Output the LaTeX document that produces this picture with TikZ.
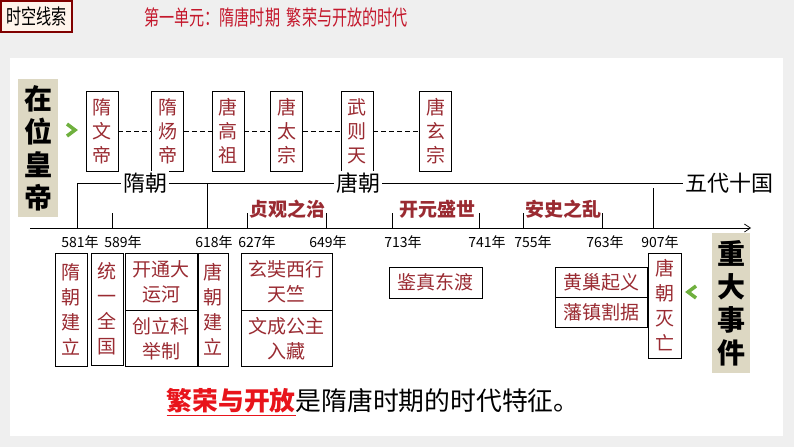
\documentclass[tikz,border=0pt]{standalone}
\usepackage{fontspec}
\setmainfont{Noto Sans CJK SC}
\usetikzlibrary{positioning, arrows.meta}

\definecolor{eventred}{HTML}{9A2B32}
\definecolor{titlered}{HTML}{C4182C}
\definecolor{boldred}{HTML}{E8141B}
\definecolor{tagtan}{HTML}{DDD8C3}
\definecolor{chevgreen}{HTML}{6FB03E}
\definecolor{pagegray}{HTML}{EFEFEF}

\newcommand{\narrowtext}[1]{\scalebox{0.72}[1]{#1}}

\tikzset{
  emperor/.style={draw, fill=white, inner sep=0pt, minimum width=32pt, minimum height=80pt,
    align=center, text=eventred, font=\fontsize{19}{24}\selectfont},
  event/.style={draw, fill=white, inner sep=0pt, align=center, text=eventred,
    font=\fontsize{19}{25}\selectfont},
  period/.style={text=eventred, font=\fontsize{19}{22}\selectfont\bfseries, inner sep=1pt},
  dynasty/.style={fill=white, inner sep=2pt, font=\fontsize{22}{24}\selectfont},
  year/.style={font=\fontsize{14}{15}\selectfont, inner sep=0pt},
  sidetag/.style={fill=tagtan, inner sep=0pt, align=center, font=\fontsize{28}{33}\selectfont\bfseries},
}

\begin{document}
\begin{tikzpicture}[x=1pt, y=-1pt, line width=0.7pt]
      \useasboundingbox (0,0) rectangle (794,447);
      \fill[pagegray] (0,0) rectangle (794,447);
      \fill[white] (10,58) rectangle (783,436);

      % Header
      \node[draw=red!50!black, line width=2.5pt, fill=red!10!orange!8, minimum width=71pt, minimum height=31pt,
        inner sep=0pt, font=\fontsize{21}{22}\selectfont] (clue) at (36.5,16.5) {\narrowtext{时空线索}};
      \node[text=titlered, font=\fontsize{21}{22}\selectfont] (title) at (276,17)
        {\narrowtext{第一单元：隋唐时期\ \ 繁荣与开放的时代}};

      % Side tags
      \node[sidetag, minimum width=40pt, minimum height=138pt] (emptag) at (38,148) {在\\位\\皇\\帝};
      \node[sidetag, minimum width=38pt, minimum height=140pt] (evtag) at (731,303) {重\\大\\事\\件};
      \draw[chevgreen, line width=3.5pt] (67,124) -- (75,130) -- (67,136);
      \draw[chevgreen, line width=3.5pt] (696,286) -- (688,292) -- (696,298);

      % Emperors
      \node[emperor] (wendi) at (102,131) {隋\\文\\帝};
      \node[emperor] (yangdi) at (167.5,131) {隋\\炀\\帝};
      \node[emperor] (gaozu) at (228,131) {唐\\高\\祖};
      \node[emperor] (taizong) at (286.5,131) {唐\\太\\宗};
      \node[emperor] (zetian) at (357,131) {武\\则\\天};
      \node[emperor] (xuanzong) at (435.5,131) {唐\\玄\\宗};

      \draw[dash pattern=on 5pt off 3pt] (wendi) -- (yangdi);
      \draw[dash pattern=on 5pt off 3pt] (yangdi) -- (gaozu);
      \draw[dash pattern=on 5pt off 3pt] (gaozu) -- (taizong);
      \draw[dash pattern=on 5pt off 3pt] (taizong) -- (zetian);
      \draw[dash pattern=on 5pt off 3pt] (zetian) -- (xuanzong);

      % Time axis
      \coordinate (axisstart) at (30,228);
      \coordinate (axisend) at (751,228);
      \draw[-{Straight Barb[length=6pt, width=8pt]}] (axisstart) -- (axisend);

      \coordinate (t581) at (77,228);
      \coordinate (t589) at (112,228);
      \coordinate (t618) at (207,228);
      \coordinate (t627) at (247,228);
      \coordinate (t649) at (326,228);
      \coordinate (t713) at (392,228);
      \coordinate (t741) at (479,228);
      \coordinate (t755) at (523,228);
      \coordinate (t763) at (602,228);
      \coordinate (t907) at (653,228);

      % Dynasty brackets
      \node[dynasty] (wudai) at (729,183) {五代十国};
      \draw (t581) -- (77,183) -- (wudai.west);
      \draw (t618) -- (207,183);
      \draw (t907) -- (653,188);
      \node[dynasty] (suichao) at (145,183) {隋朝};
      \node[dynasty] (tangchao) at (358,183) {唐朝};

      % Periods
      \draw (t589) -- ++(0,-15);
      \draw (t627) -- ++(0,-15);
      \draw (t649) -- ++(0,-15);
      \draw (t713) -- ++(0,-15);
      \draw (t741) -- ++(0,-15);
      \draw (t755) -- ++(0,-15);
      \draw (t763) -- ++(0,-15);
      \node[period] (zhenguan) at (287,209) {贞观之治};
      \node[period] (kaiyuan) at (437,209) {开元盛世};
      \node[period] (anshi) at (563,209) {安史之乱};

      % Years
      \node[year] (y581) at (80,242) {581年};
      \node[year] (y589) at (123,242) {589年};
      \node[year] (y618) at (214,242) {618年};
      \node[year] (y627) at (257,242) {627年};
      \node[year] (y649) at (328,242) {649年};
      \node[year] (y713) at (403,242) {713年};
      \node[year] (y741) at (487,242) {741年};
      \node[year] (y755) at (533,242) {755年};
      \node[year] (y763) at (605,242) {763年};
      \node[year] (y907) at (660,242) {907年};

      % Events
      \node[event, minimum width=32pt, minimum height=113pt] (suijian) at (71,309.5) {隋\\朝\\建\\立};
      \node[event, minimum width=32pt, minimum height=112pt] (tongyi) at (107,309) {统\\一\\全\\国};
      \node[event, minimum width=72pt, minimum height=57pt] (yunhe) at (161,281.5) {开通大\\运河};
      \node[event, minimum width=72pt, minimum height=56pt, below=0pt of yunhe] (keju) {创立科\\举制};
      \node[event, minimum width=30pt, minimum height=113pt] (tangjian) at (213,309.5) {唐\\朝\\建\\立};
      \node[event, minimum width=91pt, minimum height=57pt] (xuanzang) at (286.5,281.5) {玄奘西行\\天竺};
      \node[event, minimum width=91pt, minimum height=56pt, below=0pt of xuanzang] (wencheng) {文成公主\\入藏};
      \node[event, minimum width=93pt, minimum height=31pt] (jianzhen) at (435.5,282.5) {鉴真东渡};
      \node[event, minimum width=92pt, minimum height=30pt] (huangchao) at (601,282) {黄巢起义};
      \node[event, minimum width=92pt, minimum height=30pt, below=0pt of huangchao] (fanzhen) {藩镇割据};
      \node[event, minimum width=33pt, minimum height=105pt] (tangwang) at (664.5,305.5) {唐\\朝\\灭\\亡};

      % Summary
      \node[font=\fontsize{25.8}{28}\selectfont] (summary) at (373,402)
        {\textcolor{boldred}{\bfseries\underline{繁荣与开放}}是隋唐时期的时代特征。};
    \end{tikzpicture}
\end{document}
